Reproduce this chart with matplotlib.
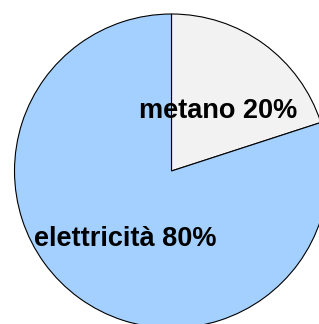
import matplotlib
matplotlib.use("Agg")
import matplotlib.pyplot as plt

labels = ["metano", "elettricità"]
values = [20, 80]
colors = ["#f2f2f2", "#a3d0ff"]

fig = plt.figure(figsize=(3.19, 3.24), dpi=100)
ax = fig.add_axes([0, 0, 1, 1])
ax.set_xlim(0, 319)
ax.set_ylim(0, 324)
ax.set_aspect("equal")
ax.axis("off")

texts = ["%s %d%%" % (l, v) for l, v in zip(labels, values)]
wedges, lbls = ax.pie(values, labels=texts, colors=colors, startangle=90,
                      counterclock=False, center=(171.5, 153), radius=157,
                      labeldistance=0.5,
                      wedgeprops=dict(edgecolor="black", linewidth=0.8),
                      textprops=dict(fontsize=19.5, fontweight="bold",
                                     family="Liberation Sans", color="black"))
for t in lbls:
    t.set_ha("center")
    t.set_va("center")
    x, y = t.get_position()
    t.set_position((x, y - 4))
ax.set_xlim(0, 319)
ax.set_ylim(0, 324)

fig.savefig("out.png", dpi=100)
